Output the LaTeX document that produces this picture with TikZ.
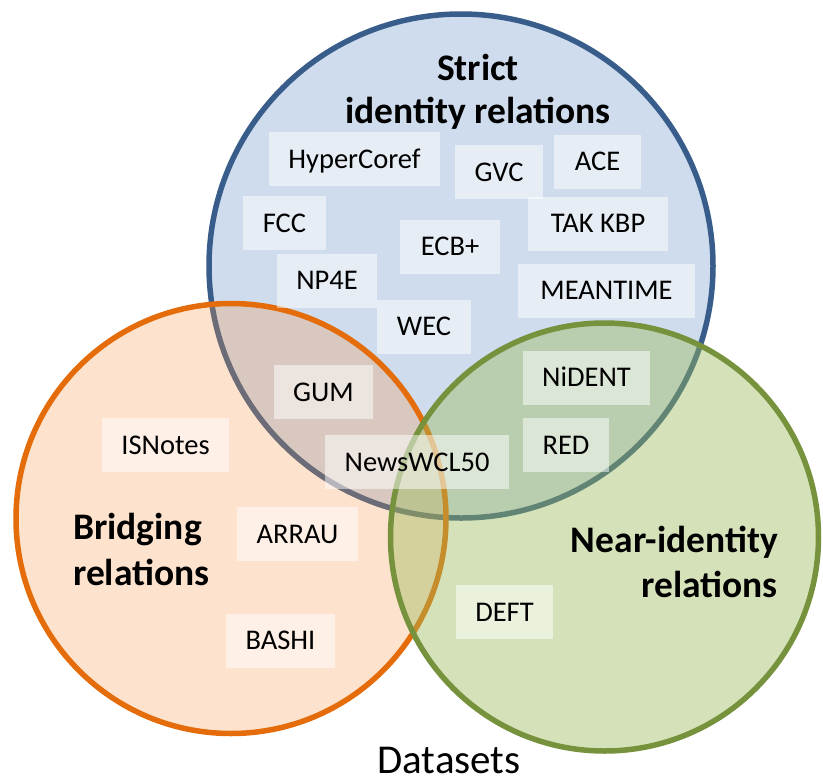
\documentclass[tikz,border=0pt]{standalone}
\usepackage{fontspec}
\setmainfont{Carlito}
\definecolor{blueline}{HTML}{385D8A}
\definecolor{bluefill}{HTML}{4F81BD}
\definecolor{orangeline}{HTML}{E46C0A}
\definecolor{orangefill}{HTML}{F79646}
\definecolor{greenline}{HTML}{76923C}
\definecolor{greenfill}{HTML}{9BBB59}
\begin{document}
\begin{tikzpicture}[x=1pt,y=-1pt,
  setcircle/.style={line width=5.5pt},
  lbl/.style={fill=white, fill opacity=0.5, text opacity=1, inner sep=0pt,
    text height=18pt, text depth=0pt, minimum height=54pt,
    font=\fontsize{28.5}{34}\selectfont},
  ttl/.style={inner sep=0pt, font=\fontsize{37.5}{45}\selectfont\bfseries}]
\useasboundingbox (0,0) rectangle (823,780);
% circles
\draw[setcircle, draw=blueline, fill=bluefill, fill opacity=0.28] (461,266) circle[radius=252];
\draw[setcircle, draw=orangeline, fill=orangefill, fill opacity=0.27] (231,518.5) circle[radius=215];
\draw[setcircle, draw=greenline, fill=greenfill, fill opacity=0.42] (604.5,537) circle[radius=214];
% dataset labels
\node[lbl, minimum width=171pt] (hyper) at (354.5,159) {HyperCoref};
\node[lbl, minimum width=88pt] (gvc) at (499,172) {GVC};
\node[lbl, minimum width=87pt] (ace) at (597.5,161.5) {ACE};
\node[lbl, minimum width=83pt] (fcc) at (284.5,223) {FCC};
\node[lbl, minimum width=140pt] (tak) at (598,223.5) {TAK KBP};
\node[lbl, minimum width=100pt] (ecb) at (450,246.5) {ECB+};
\node[lbl, minimum width=100pt] (np4e) at (327,280.5) {NP4E};
\node[lbl, minimum width=177pt] (meantime) at (606.5,290.5) {MEANTIME};
\node[lbl, minimum width=94pt] (wec) at (424,326.5) {WEC};
\node[lbl, minimum width=99pt] (gum) at (323.5,392) {GUM};
\node[lbl, minimum width=127pt] (isnotes) at (165.5,445) {ISNotes};
\node[lbl, minimum width=184pt] (newswcl) at (417,462) {NewsWCL50};
\node[lbl, minimum width=121pt] (arrau) at (297.5,534) {ARRAU};
\node[lbl, minimum width=109pt] (bashi) at (280.5,640.5) {BASHI};
\node[lbl, minimum width=127pt] (nident) at (586.5,377.5) {NiDENT};
\node[lbl, minimum width=86pt] (red) at (566,445) {RED};
\node[lbl, minimum width=97pt] (deft) at (504.5,612) {DEFT};
% titles
\node[ttl, anchor=base] (strictA) at (478,80) {Strict};
\node[ttl, anchor=base] (strictB) at (478,123) {identity relations};
\node[ttl, anchor=base west] (bridA) at (73,539) {Bridging};
\node[ttl, anchor=base west] (bridB) at (73,585) {relations};
\node[ttl, anchor=base east] (nearA) at (778,552) {Near-identity};
\node[ttl, anchor=base east] (nearB) at (778,597) {relations};
\node[inner sep=0pt, anchor=base, font=\fontsize{41}{49}\selectfont] (datasets) at (449,773) {Datasets};
\end{tikzpicture}
\end{document}
